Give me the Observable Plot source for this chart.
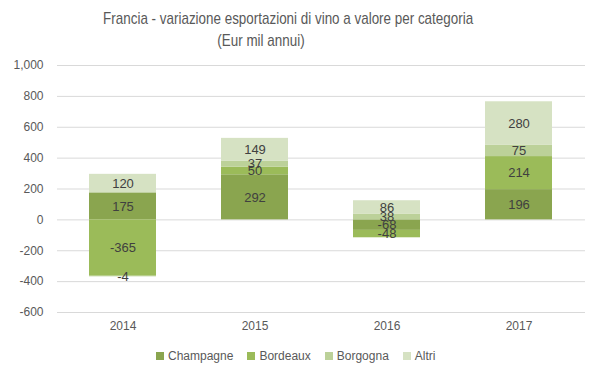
<!DOCTYPE html>
<html><head><meta charset="utf-8">
<script src="https://cdn.jsdelivr.net/npm/d3@7"></script>
<script src="https://cdn.jsdelivr.net/npm/@observablehq/plot@0.6"></script>
<style>
body{margin:0;background:#fff;}
#wrap{position:relative;width:599px;height:378px;font-family:"Liberation Sans",Arial,sans-serif;}
#title{position:absolute;left:61px;width:400px;top:8px;text-align:center;font-family:"Liberation Sans",Arial,sans-serif;font-size:17px;line-height:22px;color:#595959;}
#title div{white-space:nowrap;transform-origin:50% 50%;}
#legend{position:absolute;top:349px;left:156px;font-size:12px;color:#595959;white-space:nowrap;}
#legend span.it{display:inline-block;margin-right:14px;}
#legend i{display:inline-block;width:8px;height:8px;margin-right:4px;vertical-align:0px;}
#chart{position:absolute;left:0;top:0;}
</style></head><body>
<div id="wrap">
<div id="chart"></div>
<div id="title"><div id="t1"><span>Francia - variazione esportazioni di vino a valore per categoria</span></div><div id="t2"><span>(Eur mil annui)</span></div></div>
<div id="legend"></div>
</div>
<script>
const years = ["2014","2015","2016","2017"];
const categories = ["Champagne","Bordeaux","Borgogna","Altri"];
const champagne = [175, 292, -68, 196];
const bordeaux = [-365, 50, -48, 214];
const borgogna = [-4, 37, 38, 75];
const altri = [120, 149, 86, 280];
const colors = ["#8aa54f","#9bbb59","#bcd199","#d6e2c3"];
const yTicks = [-600,-400,-200,0,200,400,600,800,1000];

const series = [champagne, bordeaux, borgogna, altri];
const data = [];
years.forEach((yr, i) => categories.forEach((c, j) => data.push({year: yr, cat: c, value: series[j][i]})));
const fmt = d => d3.format(",")(d).replace("\u2212", "-");

const chart = Plot.plot({
  width: 599, height: 378,
  marginTop: 65, marginBottom: 66, marginLeft: 57, marginRight: 14,
  style: {fontFamily: "Liberation Sans, Arial, sans-serif", fontSize: "12px", color: "#595959", background: "transparent"},
  x: {domain: years, paddingInner: 0.49, paddingOuter: 0.245, label: null, tickSize: 0, tickPadding: 9},
  y: {domain: [-600, 1000], ticks: yTicks, tickFormat: fmt, label: null, tickSize: 0, tickPadding: 14},
  color: {domain: categories, range: colors},
  marks: [
    Plot.gridY(yTicks, {stroke: "#d9d9d9", strokeOpacity: 1, strokeWidth: 1}),
    Plot.barY(data, {x: "year", y: "value", fill: "cat", order: categories}),
    Plot.text(data, Plot.stackY({x: "year", y: "value", z: "cat", order: categories, text: d => String(d.value), fill: "#404040", fontSize: 13}))
  ]
});
document.getElementById("chart").appendChild(chart);
const lg = document.getElementById("legend");
categories.forEach((c, j) => {
  const s = document.createElement("span"); s.className = "it";
  s.innerHTML = `<i style="background:${colors[j]}"></i>${c}`;
  lg.appendChild(s);
});
// condense title lines to the reference width
const s1 = document.querySelector("#t1 span").getBoundingClientRect().width;
const k = 370 / s1;
document.getElementById("t1").style.transform = `scaleX(${k})`;
document.getElementById("t2").style.transform = `scaleX(${k})`;
</script>
</body></html>
